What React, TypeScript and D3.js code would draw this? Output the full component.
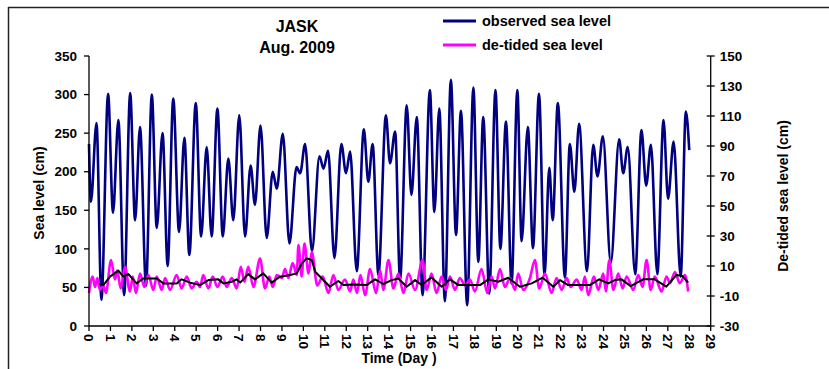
import * as d3 from "d3";

// observed sea level (cm, left axis) : [day, value] at each high / low water
const observed: [number, number][] = [
  [0.0, 236], [0.09, 161], [0.35, 263], [0.58, 34], [0.89, 301], [1.12, 147], [1.37, 267], [1.64, 40],
  [1.92, 302], [2.15, 137], [2.38, 258], [2.66, 52], [2.93, 300], [3.16, 127], [3.43, 250], [3.67, 78],
  [3.93, 295], [4.2, 122], [4.45, 244], [4.68, 92], [4.98, 289], [5.23, 116], [5.49, 232], [5.72, 116],
  [5.99, 282], [6.24, 116], [6.5, 217], [6.73, 137], [7.01, 273], [7.28, 116], [7.54, 208], [7.74, 157],
  [8.0, 260], [8.29, 114], [8.57, 200], [8.76, 178], [9.04, 249], [9.35, 107], [9.68, 206], [9.85, 198],
  [10.08, 236], [10.4, 97], [10.75, 220], [10.94, 204], [11.15, 227], [11.45, 88], [11.77, 236], [11.99, 198],
  [12.18, 226], [12.49, 71], [12.82, 255], [13.03, 187], [13.23, 236], [13.5, 66], [13.85, 273], [14.04, 211],
  [14.28, 252], [14.51, 60], [14.82, 286], [15.04, 170], [15.29, 271], [15.56, 40], [15.9, 306], [16.11, 148],
  [16.34, 282], [16.6, 32], [16.88, 319], [17.12, 118], [17.35, 279], [17.64, 27], [17.93, 309], [18.16, 83],
  [18.39, 271], [18.67, 42], [18.96, 306], [19.19, 100], [19.45, 265], [19.71, 55], [19.98, 306], [20.18, 110],
  [20.47, 258], [20.71, 101], [20.99, 301], [21.25, 66], [21.47, 205], [21.63, 137], [21.87, 289], [22.2, 63],
  [22.43, 236], [22.64, 174], [22.86, 262], [23.23, 71], [23.52, 235], [23.72, 194], [23.97, 246], [24.34, 82],
  [24.73, 242], [24.92, 198], [25.13, 232], [25.48, 67], [25.77, 254], [25.99, 182], [26.21, 235], [26.51, 67],
  [26.8, 267], [27.01, 165], [27.27, 239], [27.6, 64], [27.84, 278], [28.0, 228],
];

// de-tided sea level (cm, right axis)
const detided: [number, number][] = [
  [0.0, -8], [0.17, 3], [0.28, -4], [0.39, 2], [0.51, -6], [0.67, -3], [0.79, -8], [1.03, 14],
  [1.21, 1], [1.32, 7], [1.48, -5], [1.68, 9.5], [1.91, -7], [2.04, 3], [2.19, -8], [2.38, 5],
  [2.58, -4], [2.77, 4], [3.0, -6], [3.16, 3], [3.39, -6], [3.55, 2], [3.78, -6], [4.09, 4],
  [4.32, -5], [4.56, 3], [4.79, -5], [5.02, -0.5], [5.18, -4], [5.33, 4], [5.57, -5], [5.77, 3],
  [5.99, -4], [6.24, 3], [6.42, -4], [6.66, 2], [6.89, -5], [7.08, 9.5], [7.25, -0.5], [7.43, 9.5],
  [7.67, -4], [7.98, 15], [8.21, -5], [8.41, 3], [8.57, -4], [8.76, 4], [9.0, 2], [9.14, 8],
  [9.3, 2], [9.5, 12], [9.69, 4], [9.77, 24], [9.92, 3], [10.05, 25], [10.24, 5], [10.39, 19.5],
  [10.65, -3], [10.9, 3], [11.17, -8], [11.4, 4], [11.63, -6], [11.94, 1], [12.18, -7], [12.33, 1],
  [12.5, -8], [12.66, 4], [12.88, -9.5], [13.11, 8], [13.39, -8], [13.58, 7], [13.73, -6], [13.97, 14],
  [14.2, -5], [14.43, 5], [14.67, -8], [14.9, 5], [15.21, -6], [15.56, 14], [15.75, -6], [15.98, 5],
  [16.21, -8], [16.45, 3], [16.65, -6], [16.84, 3], [17.07, -6], [17.3, 2], [17.54, -3], [17.77, 1],
  [18.0, -7], [18.31, 8], [18.58, -8], [18.78, 3], [18.94, -5], [19.17, 8], [19.4, -4], [19.64, 2],
  [19.87, -6], [20.02, 5], [20.26, -6], [20.57, 2], [20.8, 14], [21.0, -5], [21.27, 5], [21.58, -8],
  [21.81, 2], [22.05, -6], [22.28, 2], [22.47, -4], [22.75, 1], [22.98, -6], [23.13, 3], [23.29, -9.5],
  [23.55, 3], [23.76, -6], [23.99, 5], [24.11, -7], [24.27, 14], [24.46, -6], [24.69, 5], [24.89, -5],
  [25.08, 3], [25.39, -6], [25.62, 4], [25.82, -4], [26.01, 14], [26.2, -6], [26.39, 3], [26.71, -7],
  [26.94, 3], [27.1, -1.5], [27.33, 6], [27.56, -1.5], [27.8, 4], [27.95, -7],
];

// smoothed de-tided level (black line, right axis)
const trend: [number, number][] = [
  [0.47, -2], [0.67, -2.7], [0.98, 2.9], [1.37, 6.9], [1.6, 2.9], [1.84, 4.6], [2.22, -1.6], [2.53, 1.7],
  [3.16, 1.7], [3.47, -1.6], [4.09, -1.6], [4.32, 1.1], [4.71, -1.1], [5.18, -2.7], [5.57, 0.6], [6.03, 1.1],
  [6.27, -1.6], [6.66, -0.5], [6.89, 1.1], [7.05, -1.1], [7.43, 4.6], [7.74, 1.1], [8.13, 5.1], [8.52, -1.1],
  [8.91, 2.9], [9.38, 4], [9.69, 5.1], [9.92, 11.7], [10.16, 15.1], [10.39, 14], [10.55, 6.2], [10.86, 1.7],
  [11.24, -3.8], [11.63, 0], [11.87, -2.7], [12.33, -2.3], [12.95, -2.7], [13.34, 1.1], [13.73, -2], [14.12, 0.6],
  [14.43, 1.7], [14.82, -3.8], [15.21, 0.6], [15.52, -2.7], [15.98, 2.4], [16.45, -3.8], [16.84, 1.1], [17.23, -2.7],
  [18.24, -2.7], [18.63, 1.1], [19.09, -0.5], [19.56, 2.2], [20.1, -3.8], [20.65, -1.6], [21.16, 2.2], [21.66, -3.8],
  [21.97, 0.6], [22.35, -2.7], [23.36, -2.7], [23.8, 1.1], [24.22, -1.6], [24.53, 0.6], [24.84, 1.1], [25.27, -3.4],
  [25.85, 1.1], [26.39, 1.1], [26.93, -3.8], [27.4, 4], [27.68, 3.3], [27.95, -1.1],
];

const dayTicks = d3.range(0, 30);
const leftTicks = d3.range(0, 351, 50);
const rightTicks = d3.range(-30, 151, 20);

const W = 829;
const H = 369;
const font = "'Liberation Sans', Arial, sans-serif";

export default function App() {
  const plot = { left: 89, right: 710.7, top: 56, bottom: 326 };

  const x = d3.scaleLinear().domain([0, 29]).range([plot.left, plot.right]);
  const yL = d3.scaleLinear().domain([0, 350]).range([plot.bottom, plot.top]);
  const yR = d3.scaleLinear().domain([-30, 150]).range([plot.bottom, plot.top]);

  const obsLine = d3
    .line<[number, number]>()
    .x((d) => x(d[0]))
    .y((d) => yL(d[1]))
    .curve(d3.curveMonotoneX);
  const detLine = d3
    .line<[number, number]>()
    .x((d) => x(d[0]))
    .y((d) => yR(d[1]))
    .curve(d3.curveMonotoneX);
  const trendLine = d3
    .line<[number, number]>()
    .x((d) => x(d[0]))
    .y((d) => yR(d[1]));

  return (
    <svg
      width={W}
      height={H}
      style={{ position: "absolute", left: 0, top: 0, background: "#fff" }}
      fontFamily={font}
      fontWeight="bold"
    >
      {/* frame */}
      <line x1={8} y1={7.5} x2={W} y2={7.5} stroke="#222" strokeWidth={1.5} />
      <line x1={8.5} y1={7} x2={8.5} y2={H} stroke="#222" strokeWidth={1.5} />

      {/* title */}
      <text x={297} y={32} textAnchor="middle" fontSize={16}>JASK</text>
      <text x={297} y={53} textAnchor="middle" fontSize={16}>Aug. 2009</text>

      {/* legend */}
      <line x1={443} x2={476} y1={21} y2={21} stroke="#000080" strokeWidth={3} />
      <text x={482} y={21} dy="0.35em" fontSize={14.5}>observed sea level</text>
      <line x1={443} x2={476} y1={45} y2={45} stroke="#ff00ff" strokeWidth={3} />
      <text x={482} y={45} dy="0.35em" fontSize={14.5}>de-tided sea level</text>

      {/* series */}
      <path d={obsLine(observed) ?? ""} fill="none" stroke="#000080" strokeWidth={2.6} strokeLinejoin="round" />
      <path d={detLine(detided) ?? ""} fill="none" stroke="#ff00ff" strokeWidth={2.6} strokeLinejoin="round" />
      <path d={trendLine(trend) ?? ""} fill="none" stroke="#000" strokeWidth={2} strokeLinejoin="round" />

      {/* left axis */}
      <line x1={plot.left} x2={plot.left} y1={plot.top} y2={plot.bottom} stroke="#000" strokeWidth={1.3} />
      {leftTicks.map((t) => (
        <g key={"l" + t}>
          <line x1={plot.left - 5} x2={plot.left} y1={yL(t)} y2={yL(t)} stroke="#000" strokeWidth={1.3} />
          <text x={plot.left - 12} y={yL(t)} dy="0.35em" textAnchor="end" fontSize={13.5}>
            {t}
          </text>
        </g>
      ))}

      {/* right axis */}
      <line x1={plot.right} x2={plot.right} y1={plot.top} y2={plot.bottom} stroke="#000" strokeWidth={1.3} />
      {rightTicks.map((t) => (
        <g key={"r" + t}>
          <line x1={plot.right - 4} x2={plot.right + 4} y1={yR(t)} y2={yR(t)} stroke="#000" strokeWidth={1.3} />
          <text x={plot.right + 9} y={yR(t)} dy="0.35em" textAnchor="start" fontSize={13.5}>
            {t}
          </text>
        </g>
      ))}

      {/* x axis */}
      <line x1={plot.left} x2={plot.right} y1={plot.bottom} y2={plot.bottom} stroke="#000" strokeWidth={1.3} />
      {dayTicks.map((t) => (
        <g key={"x" + t}>
          <line x1={x(t)} x2={x(t)} y1={plot.bottom} y2={plot.bottom + 5} stroke="#000" strokeWidth={1.3} />
          <text
            transform={`translate(${x(t)},${plot.bottom + 8}) rotate(90)`}
            dy="0.35em"
            textAnchor="start"
            fontSize={13.5}
          >
            {t}
          </text>
        </g>
      ))}

      {/* axis titles */}
      <text x={399} y={363} textAnchor="middle" fontSize={14}>Time (Day )</text>
      <text transform="translate(44,193) rotate(-90)" textAnchor="middle" fontSize={14}>
        Sea level (cm)
      </text>
      <text transform="translate(788,196) rotate(-90)" textAnchor="middle" fontSize={14}>
        De-tided sea level (cm)
      </text>
    </svg>
  );
}
